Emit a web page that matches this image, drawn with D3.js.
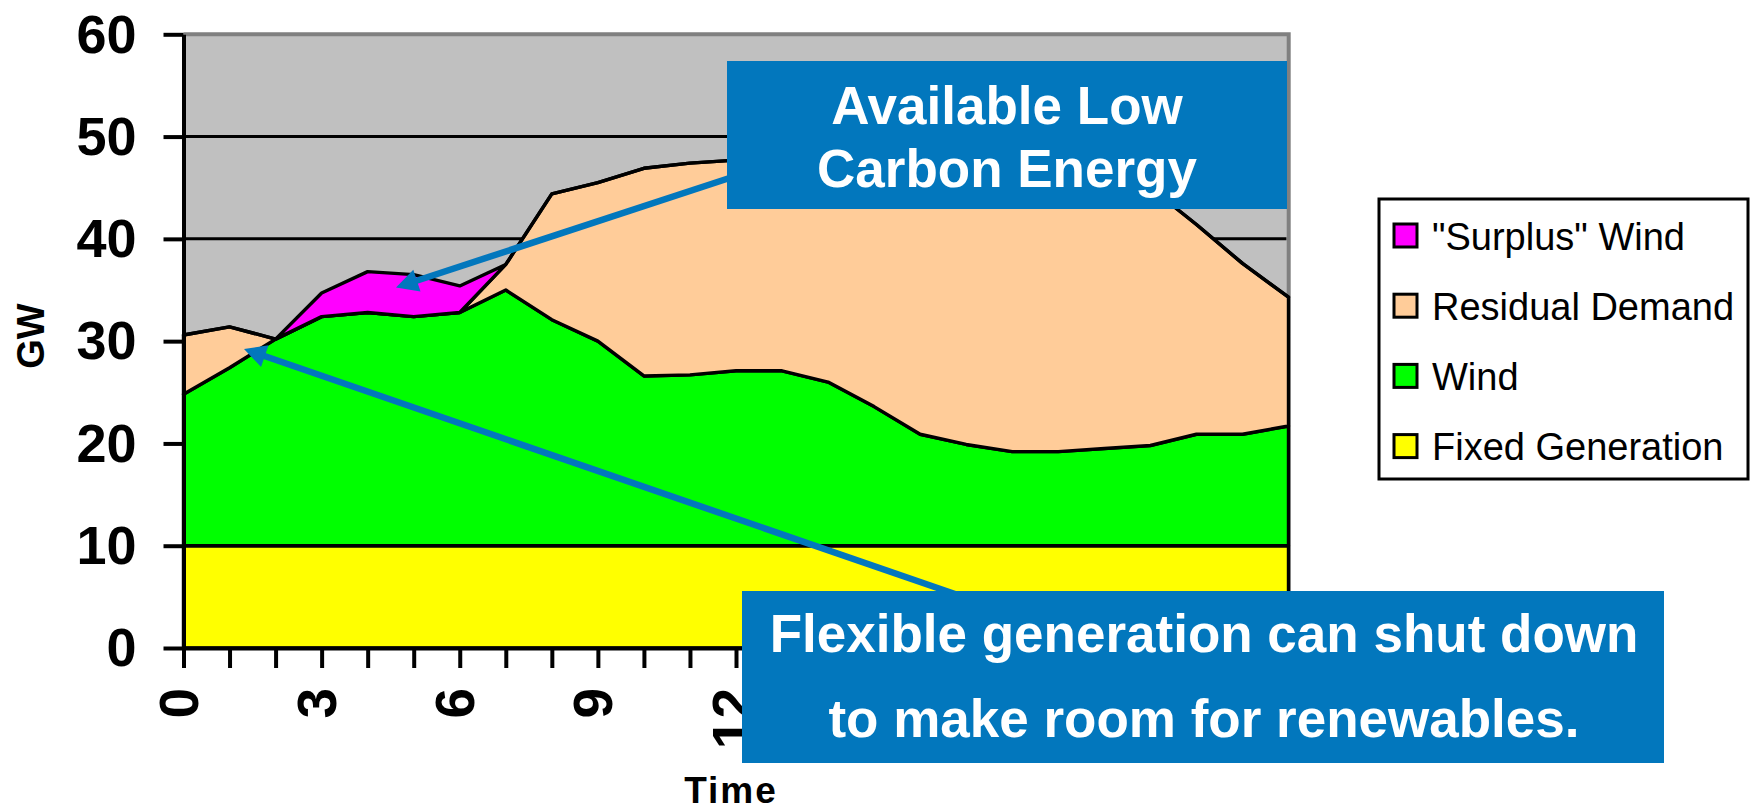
<!DOCTYPE html>
<html>
<head>
<meta charset="utf-8">
<script src="https://cdn.jsdelivr.net/npm/d3@7/dist/d3.min.js"></script>
<style>
  html, body { margin: 0; padding: 0; background: #ffffff; }
  svg { display: block; }
  text { font-family: "Liberation Sans", Arial, sans-serif; }
</style>
</head>
<body>
<svg id="chart" width="1750" height="812"></svg>
<script>
// ---------------- data ----------------
const hours = [0,1,2,3,4,5,6,7,8,9,10,11,12,13,14,15,16,17,18,19,20,21,22,23,24];
const fixedGeneration = [10,10,10,10,10,10,10,10,10,10,10,10,10,10,10,10,10,10,10,10,10,10,10,10,10];
const wind = [14.8,17.4,20.2,22.4,22.8,22.4,22.8,25.0,22.1,20.0,16.6,16.7,17.1,17.1,16.0,13.6,10.9,9.9,9.2,9.2,9.5,9.8,10.9,10.9,11.7];
const residualDemand = [5.8,4.0,0,0,0,0,0,2.5,12.3,15.5,20.3,20.7,20.6,20.9,22.2,24.7,27.4,28.3,28.8,28.4,27.3,25.2,20.5,16.7,12.6];
const surplusWind = [0,0,0,2.3,4.0,4.1,2.6,0,0,0,0,0,0,0,0,0,0,0,0,0,0,0,0,0,0];
const seriesNames = ["Fixed Generation","Wind","Residual Demand","\"Surplus\" Wind"];
const seriesColors = ["#FFFF00","#00FF00","#FFCC99","#FF00FF"];
const yTicks = [0,10,20,30,40,50,60];
const xTickLabels = [0,3,6,9,12,15,18,21,24];
const yTitle = "GW";
const xTitle = "Time";
const note1 = ["Available Low","Carbon Energy"];
const note2 = ["Flexible generation can shut down","to make room for renewables."];

// ---------------- layout ----------------
const svg = d3.select("#chart");
const x = d3.scaleLinear().domain([0,24]).range([183.5,1288.5]);
const y = d3.scaleLinear().domain([0,60]).range([648,34.3]);
const BLUE = "#0277BD";

const table = hours.map((h,i) => ({
  hour: h,
  "Fixed Generation": fixedGeneration[i],
  "Wind": wind[i],
  "Residual Demand": residualDemand[i],
  "\"Surplus\" Wind": surplusWind[i]
}));
const stacked = d3.stack().keys(seriesNames)(table);

// plot background
svg.append("rect")
  .attr("x", x(0)).attr("y", y(60))
  .attr("width", x(24)-x(0)).attr("height", y(0)-y(60))
  .attr("fill", "#C0C0C0");

// gridlines
svg.append("g").selectAll("line")
  .data(yTicks.filter(v => v > 0 && v < 60))
  .join("line")
  .attr("x1", x(0)).attr("x2", x(24)-2)
  .attr("y1", d => y(d)).attr("y2", d => y(d))
  .attr("stroke","#000").attr("stroke-width",3);

// gray border top/right
svg.append("path")
  .attr("d", `M${x(0)},${y(60)}H${x(24)+0.2}V${y(0)}`)
  .attr("fill","none").attr("stroke","#808080").attr("stroke-width",4);

// areas
const area = d3.area()
  .x(d => x(d.data.hour))
  .y0(d => y(d[0]))
  .y1(d => y(d[1]));

svg.append("g").selectAll("path")
  .data(stacked)
  .join("path")
  .attr("d", area)
  .attr("fill", (d,i) => seriesColors[i])
  .attr("stroke","#000").attr("stroke-width",3.4)
  .attr("stroke-linejoin","round");

// axes
const yAxis = d3.axisLeft(y).tickValues(yTicks).tickSize(20).tickSizeOuter(0).tickPadding(27);
const gy = svg.append("g").attr("transform", `translate(${x(0)},0)`).call(yAxis);
gy.select(".domain").attr("stroke","#000").attr("stroke-width",4);
gy.selectAll(".tick line").attr("stroke","#000").attr("stroke-width",4);
gy.selectAll(".tick text")
  .attr("font-size", 54).attr("font-weight","bold").attr("fill","#000")
  .attr("font-family","Liberation Sans, Arial, sans-serif")
  .attr("dy","0.33em");

const xAxis = d3.axisBottom(x).tickValues(hours).tickSize(20).tickSizeOuter(0)
  .tickFormat(d => xTickLabels.includes(d) ? String(d) : "");
const gx = svg.append("g").attr("transform", `translate(0,${y(0)})`).call(xAxis);
gx.select(".domain").attr("stroke","#000").attr("stroke-width",4);
gx.selectAll(".tick line").attr("stroke","#000").attr("stroke-width",4);
gx.selectAll(".tick text")
  .attr("font-size", 55).attr("font-weight","bold").attr("fill","#000")
  .attr("font-family","Liberation Sans, Arial, sans-serif")
  .attr("transform","rotate(-90)")
  .attr("text-anchor","end")
  .attr("x", -40).attr("y", 14).attr("dy", 0);

// axis titles
svg.append("text")
  .attr("transform", `translate(44,336) rotate(-90)`)
  .attr("text-anchor","middle")
  .attr("font-size",38).attr("font-weight","bold")
  .text(yTitle);
svg.append("text")
  .attr("x", 731).attr("y", 803)
  .attr("text-anchor","middle")
  .attr("font-size",37).attr("font-weight","bold")
  .attr("letter-spacing", 2)
  .text(xTitle);

// legend
const lg = svg.append("g");
lg.append("rect").attr("x",1379).attr("y",199).attr("width",369).attr("height",280)
  .attr("fill","#fff").attr("stroke","#000").attr("stroke-width",3);
const legendOrder = [3,2,1,0];
legendOrder.forEach((si, r) => {
  const cy = 235.5 + r*70.2;
  lg.append("rect").attr("x",1394).attr("y",cy-11.5).attr("width",23).attr("height",23)
    .attr("fill",seriesColors[si]).attr("stroke","#000").attr("stroke-width",3);
  lg.append("text").attr("x",1432).attr("y",cy+14)
    .attr("font-size",38).attr("fill","#000")
    .text(seriesNames[si]);
});

// arrows
function arrow(x0,y0,x1,y1){
  const dx = x1-x0, dy = y1-y0, L = Math.hypot(dx,dy);
  const ux = dx/L, uy = dy/L, px = -uy, py = ux;
  const hl = 22, hw = 11.5;
  const bx = x1 - ux*hl, by = y1 - uy*hl;
  svg.append("line").attr("x1",x0).attr("y1",y0).attr("x2",bx+ux*2).attr("y2",by+uy*2)
    .attr("stroke",BLUE).attr("stroke-width",6.5);
  svg.append("path")
    .attr("d",`M${x1},${y1}L${bx+px*hw},${by+py*hw}L${bx-px*hw},${by-py*hw}Z`)
    .attr("fill",BLUE);
}
arrow(760,168,396,287.5);
arrow(955,594,244,349);

// note boxes
svg.append("rect").attr("x",727).attr("y",61).attr("width",560).attr("height",148).attr("fill",BLUE);
svg.append("text").attr("x",1007).attr("text-anchor","middle")
  .attr("fill","#fff").attr("font-size",53).attr("font-weight","bold")
  .selectAll("tspan").data(note1).join("tspan")
  .attr("x",1007).attr("y",(d,i)=>123.5+i*63.3).text(d=>d);

svg.append("rect").attr("x",742).attr("y",591).attr("width",922).attr("height",172).attr("fill",BLUE);
svg.append("text").attr("x",1204).attr("text-anchor","middle")
  .attr("fill","#fff").attr("font-size",53).attr("font-weight","bold")
  .selectAll("tspan").data(note2).join("tspan")
  .attr("x",1204).attr("y",(d,i)=>652+i*85).text(d=>d);
</script>
</body>
</html>
